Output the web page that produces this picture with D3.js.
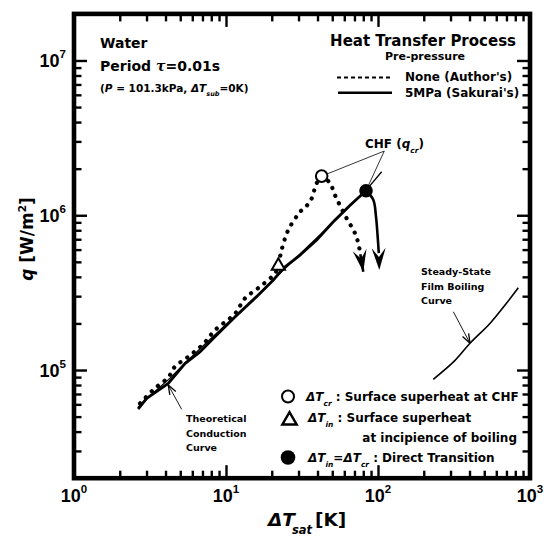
<!DOCTYPE html>
<html><head><meta charset="utf-8">
<script src="https://cdn.jsdelivr.net/npm/d3@7"></script>
<style>body{margin:0;background:#fff}svg{display:block}</style>
</head><body><svg id="c" width="546" height="536"></svg>
<script>
// ---- data (ΔTsat [K], q [W/m2]) ----
const xDomain = [1, 1000];
const yDomain = [2e4, 2e7];
const xMajor = [1, 10, 100, 1000];
const xTickExp = ["0", "1", "2", "3"];
const yMajor = [1e5, 1e6, 1e7];
const yTickExp = ["5", "6", "7"];

const noneAuthor = [[2.72,6.09e4],[3.41,7.62e4],[4.17,8.97e4],[4.61,1.05e5],[5.65,1.22e5],[7.09,1.47e5],[8.47,1.81e5],[11.5,2.32e5],[13.3,2.90e5],[16.7,3.45e5],[21.0,4.21e5],[22.1,4.77e5],[23.2,5.96e5],[25.7,8.03e5],[30.7,1.05e6],[35.7,1.22e6],[39.5,1.61e6],[42.6,1.79e6],[48.3,1.61e6],[52.1,1.35e6],[60.6,1.00e6],[70.6,7.64e5],[74.2,6.59e5],[76.5,5.6e5]];
const noneArrowTip = [80.0, 4.32e5];

const sakurai = [[2.64,5.6e4],[3.01,6.56e4],[4.17,8.2e4],[5.37,1.10e5],[6.74,1.31e5],[8.46,1.64e5],[11.5,2.21e5],[15.9,2.98e5],[20.5,3.82e5],[23.8,4.54e5],[30.7,5.53e5],[39.5,6.92e5],[50.8,9.08e5],[65.5,1.16e6],[83.4,1.44e6]];
const sakuraiDrop = [[83.4,1.44e6],[93.1,1.26e6],[97.0,9.8e5],[99.5,7.27e5],[101.2,5.7e5]];
const sakuraiArrowTip = [102, 4.43e5];

const conduction = [[2.64,5.75e4],[3.2,6.9e4],[4.2,8.7e4],[5.5,1.13e5],[7,1.42e5],[10,1.97e5],[15,2.85e5],[20,3.75e5],[30,5.5e5],[40,7.2e5],[55,9.7e5],[70,1.22e6],[85,1.48e6],[105.7,1.91e6]];
const filmBoiling = [[231,8.71e4],[320,1.15e5],[403,1.49e5],[545,2.0e5],[700,2.7e5],[838,3.4e5]];

const chfNone = [42.6, 1.79e6];       // open circle
const chfDirect = [83.4, 1.44e6];     // filled circle
const incipience = [22.1, 4.77e5];    // triangle

const chfLabelAnchor = [110, 2.6e6];
const condArrow = {tail:[5.11,5.57e4], tip:[4.17,8.0e4]};
const filmArrow = {tail:[313,2.38e5], tip:[403,1.49e5]};

// ---- setup ----
const svg = d3.select("#c");
const FONT = "'DejaVu Sans', sans-serif";
const TFONT = "'Liberation Sans', Arial, sans-serif";
const x = d3.scaleLog().domain(xDomain).range([74, 530]);
const y = d3.scaleLog().domain(yDomain).range([478.2, 13.9]);
const X0 = x(xDomain[0]), X1 = x(xDomain[1]), Y0 = y(yDomain[0]), Y1 = y(yDomain[1]);
const P = d => [x(d[0]), y(d[1])];

// minor ticks
const minorX = [], minorY = [];
[1,10,100].forEach(d => { for (let k=2;k<=9;k++) minorX.push(k*d); });
[1e4,1e5,1e6,1e7].forEach(d => { for (let k=2;k<=9;k++){ const v=k*d; if (v>yDomain[0] && v<yDomain[1]) minorY.push(v);} });

function axisG(gen, tr, vals, size) {
  const g = svg.append("g").attr("transform", tr)
    .call(gen.tickValues(vals).tickSize(size).tickFormat(""));
  g.select(".domain").remove();
  g.selectAll(".tick line").attr("stroke","#000").attr("stroke-width",2.4);
}
const xMajIn = xMajor.slice(1,-1);
axisG(d3.axisBottom(x), `translate(0,${Y0})`, xMajIn, -13);
axisG(d3.axisBottom(x), `translate(0,${Y0})`, minorX, -7.5);
axisG(d3.axisTop(x), `translate(0,${Y1})`, xMajIn, -13);
axisG(d3.axisTop(x), `translate(0,${Y1})`, minorX, -7.5);
axisG(d3.axisLeft(y), `translate(${X0},0)`, yMajor, -13);
axisG(d3.axisLeft(y), `translate(${X0},0)`, minorY, -7.5);
axisG(d3.axisRight(y), `translate(${X1},0)`, yMajor, -13);
axisG(d3.axisRight(y), `translate(${X1},0)`, minorY, -7.5);

svg.append("rect").attr("x",X0).attr("y",Y1).attr("width",X1-X0).attr("height",Y0-Y1)
  .attr("fill","none").attr("stroke","#000").attr("stroke-width",4.6);

// tick labels
xMajor.forEach((v,i) => {
  const t = svg.append("text").attr("x", x(v)).attr("y", 501.5).attr("text-anchor","middle")
    .attr("font-family",TFONT).attr("font-weight","bold").attr("font-size",18);
  t.append("tspan").text("10");
  t.append("tspan").text(xTickExp[i]).attr("font-size",11.5).attr("dy",-8.5);
});
yMajor.forEach((v,i) => {
  const t = svg.append("text").attr("x", 66).attr("y", y(v)+6.5).attr("text-anchor","end")
    .attr("font-family",TFONT).attr("font-weight","bold").attr("font-size",18);
  t.append("tspan").text("10");
  t.append("tspan").text(yTickExp[i]).attr("font-size",11.5).attr("dy",-8.5);
});

// rich text helper
function rich(px, py, segs, size, anchor, parent) {
  const t = (parent||svg).append("text").attr("x",px).attr("y",py)
    .attr("font-family",FONT).attr("font-weight","bold").attr("font-size",size)
    .attr("text-anchor",anchor||"start");
  let shift = 0;
  segs.forEach(s => {
    const ts = t.append("tspan").text(s.t);
    const target = s.sub ? size*0.42 : s.sup ? -size*0.42 : 0;
    if (target-shift !== 0) ts.attr("dy", target-shift);
    shift = target;
    if (s.sub || s.sup) ts.attr("font-size", size*0.62);
    if (s.i) ts.attr("font-style","italic");
    if (s.dx) ts.attr("dx", s.dx);
    if (s.x !== undefined) ts.attr("x", s.x);
    if (s.ff) ts.attr("font-family", s.ff);
  });
  return t;
}

// axis titles
rich(268, 526, [{t:"ΔT",i:true},{t:"sat",sub:true,i:true,dx:-3},{t:"[K]",x:315}], 18.5);
const yt = svg.append("g").attr("transform","translate(33,239) rotate(-90)");
rich(0, 0, [{t:"q",i:true},{t:" [W/m"},{t:"2",sup:true},{t:"]"}], 17, "middle", yt);

// top-left texts
rich(100, 47.5, [{t:"Water"}], 14);
rich(100, 71, [{t:"Period "},{t:"τ",ff:"'DejaVu Serif', serif",i:true},{t:"=0.01s"}], 14);
rich(100, 92, [{t:"("},{t:"P",i:true},{t:" = 101.3kPa, "},{t:"ΔT",i:true},{t:"sub",sub:true,i:true},{t:"=0K)"}], 10.5);

// top-right legend
rich(516, 45.5, [{t:"Heat Transfer Process"}], 15, "end");
rich(425, 60, [{t:"Pre-pressure"}], 11, "middle");
svg.append("line").attr("x1",337).attr("x2",392).attr("y1",77.5).attr("y2",77.5)
  .attr("stroke","#000").attr("stroke-width",2.2).attr("stroke-dasharray","4 3");
rich(405, 80.5, [{t:"None (Author's)"}], 12);
svg.append("line").attr("x1",338).attr("x2",392).attr("y1",92.7).attr("y2",92.7)
  .attr("stroke","#000").attr("stroke-width",2.6);
rich(405, 96.7, [{t:"5MPa (Sakurai's)"}], 12);

// lines
const line = d3.line().x(d=>x(d[0])).y(d=>y(d[1]));
svg.append("path").attr("d", line.curve(d3.curveCatmullRom)(filmBoiling))
  .attr("fill","none").attr("stroke","#000").attr("stroke-width",1.6);
svg.append("path").attr("d", line.curve(d3.curveLinear)(conduction))
  .attr("fill","none").attr("stroke","#000").attr("stroke-width",1.3);
svg.append("path").attr("d", line.curve(d3.curveLinear)(sakurai))
  .attr("fill","none").attr("stroke","#000").attr("stroke-width",2.8);
svg.append("path").attr("d", line.curve(d3.curveCatmullRom)(sakuraiDrop))
  .attr("fill","none").attr("stroke","#000").attr("stroke-width",2.6);
svg.append("path").attr("d", line.curve(d3.curveCatmullRom)(noneAuthor))
  .attr("fill","none").attr("stroke","#000").attr("stroke-width",4.2)
  .attr("stroke-linecap","round").attr("stroke-dasharray","0.1 8.2");

// arrowheads
function head(from, tip, len, hw, notch) {
  const [fx,fy] = P(from), [tx,ty] = P(tip);
  const a = Math.atan2(ty-fy, tx-fx);
  const pts = [[0,0],[-len,-hw],[-len+notch,0],[-len,hw]].map(([u,v]) =>
    [tx + u*Math.cos(a) - v*Math.sin(a), ty + u*Math.sin(a) + v*Math.cos(a)]);
  svg.append("path").attr("d","M"+pts.map(p=>p.join(",")).join("L")+"Z").attr("fill","#000");
}
function shaft(from, tip) {
  const [fx,fy] = P(from), [tx,ty] = P(tip);
  svg.append("line").attr("x1",fx).attr("y1",fy).attr("x2",tx).attr("y2",ty)
    .attr("stroke","#000").attr("stroke-width",2.6);
}
shaft(noneAuthor[noneAuthor.length-1], noneArrowTip);
head(noneAuthor[noneAuthor.length-1], noneArrowTip, 22, 7, 9);
head(sakuraiDrop[sakuraiDrop.length-1], sakuraiArrowTip, 22, 7, 9);

// annotation arrows
function annot(a) {
  const [fx,fy] = P(a.tail), [tx,ty] = P(a.tip);
  svg.append("line").attr("x1",fx).attr("y1",fy).attr("x2",tx).attr("y2",ty)
    .attr("stroke","#000").attr("stroke-width",0.9);
  const ang = Math.atan2(ty-fy, tx-fx);
  [-0.35, 0.35].forEach(d => {
    svg.append("line").attr("x1",tx).attr("y1",ty)
      .attr("x2",tx - 10*Math.cos(ang+d)).attr("y2",ty - 10*Math.sin(ang+d))
      .attr("stroke","#000").attr("stroke-width",1.3);
  });
}
annot(condArrow);
annot(filmArrow);

// CHF leader lines
[chfNone, chfDirect].forEach(p => {
  const [ax,ay] = P(chfLabelAnchor), [px,py] = P(p);
  svg.append("line").attr("x1",ax).attr("y1",ay).attr("x2",px).attr("y2",py)
    .attr("stroke","#000").attr("stroke-width",0.8);
});
rich(365, 147.5, [{t:"CHF ("},{t:"q",i:true},{t:"cr",sub:true,i:true},{t:")"}], 12);

// markers
function triPath(cx, cy, s) {
  return `M${cx},${cy-s*0.62}L${cx+s*0.6},${cy+s*0.42}L${cx-s*0.6},${cy+s*0.42}Z`;
}
svg.append("circle").attr("cx",x(chfNone[0])).attr("cy",y(chfNone[1])).attr("r",5.8)
  .attr("fill","#fff").attr("stroke","#000").attr("stroke-width",2);
svg.append("circle").attr("cx",x(chfDirect[0])).attr("cy",y(chfDirect[1])).attr("r",6.8)
  .attr("fill","#000");
svg.append("path").attr("d",triPath(x(incipience[0]),y(incipience[1]),11))
  .attr("fill","#fff").attr("stroke","#000").attr("stroke-width",2);

// annotation texts
rich(421, 275, [{t:"Steady-State"}], 9.5);
rich(421, 289.5, [{t:"Film Boiling"}], 9.5);
rich(421, 304, [{t:"Curve"}], 9.5);
rich(186, 422, [{t:"Theoretical"}], 9.5);
rich(186, 436.5, [{t:"Conduction"}], 9.5);
rich(186, 451, [{t:"Curve"}], 9.5);

// bottom legend
svg.append("circle").attr("cx",288).attr("cy",396.5).attr("r",6).attr("fill","#fff")
  .attr("stroke","#000").attr("stroke-width",2);
svg.append("path").attr("d",triPath(289.5,419.5,12)).attr("fill","#fff")
  .attr("stroke","#000").attr("stroke-width",2.4);
svg.append("circle").attr("cx",288).attr("cy",457.5).attr("r",7.3).attr("fill","#000");
rich(306, 400.5, [{t:"ΔT",i:true},{t:"cr",sub:true,i:true},{t:" : Surface superheat at CHF"}], 12);
rich(308, 422, [{t:"ΔT",i:true},{t:"in",sub:true,i:true},{t:" : Surface superheat"}], 12);
rich(517, 441.5, [{t:"at incipience of boiling"}], 12, "end");
rich(308, 461.5, [{t:"ΔT",i:true},{t:"in",sub:true,i:true},{t:"=ΔT",i:true},{t:"cr",sub:true,i:true},{t:" : Direct Transition"}], 12);
</script></body></html>
